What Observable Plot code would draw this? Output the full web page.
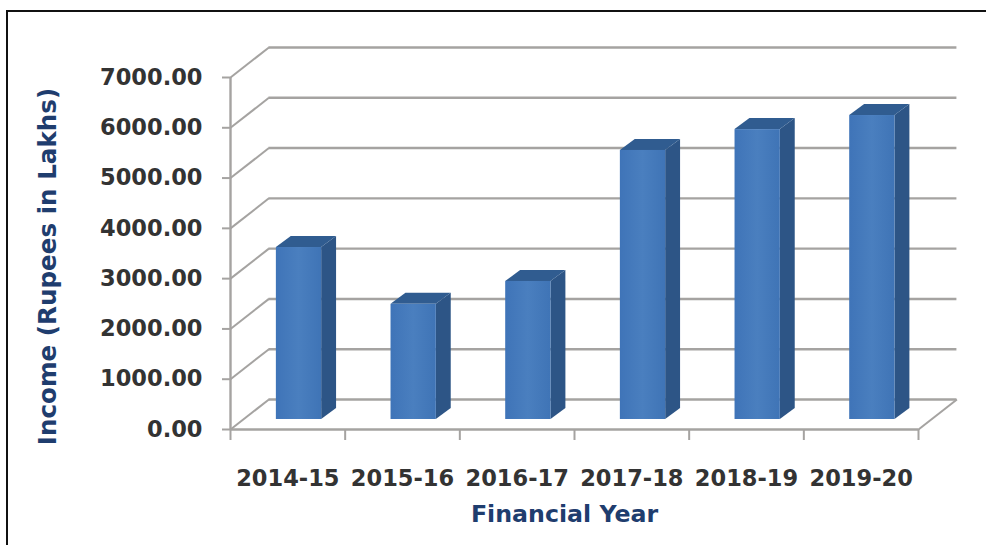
<!DOCTYPE html>
<html>
<head>
<meta charset="utf-8">
<script src="https://cdn.jsdelivr.net/npm/d3@7"></script>
<script src="https://cdn.jsdelivr.net/npm/@observablehq/plot@0.6"></script>
<style>
  html, body { margin: 0; padding: 0; background: #fff; overflow: hidden; }
  #chart { position: relative; width: 986px; height: 545px; }
  #chart svg { position: absolute; left: 0; top: 0; }
  #frame { position: absolute; left: 6px; top: 10px; right: 0; bottom: 0;
           border-left: 2px solid #111; border-top: 2px solid #111; }
</style>
</head>
<body>
<div id="chart"><div id="frame"></div></div>
<script>
// Annual income, in lakhs of rupees
const years = ["2014-15", "2015-16", "2016-17", "2017-18", "2018-19", "2019-20"];
const income = [3420, 2290, 2745, 5350, 5765, 6045];
const valueTicks = [0, 1000, 2000, 3000, 4000, 5000, 6000, 7000];

// Oblique projection, expressed in scale units
const wallX = 0.335, wallY = 597;      // floor depth, front edge to back wall
const barX = 0.13, barY = 219;         // depth of one column
const barLeft = 0.4, barWidth = 0.395; // column position inside its category
const barFloor = 199;                  // columns stand set back on the floor

const gridColor = "#a5a3a1";
const bars = years.map((year, i) => ({
  year,
  left: i + barLeft,
  right: i + barLeft + barWidth,
  base: barFloor,
  top: barFloor + income[i]
}));

// Right-hand face of each column
const sideFaces = bars.flatMap(b => [
  {year: b.year, x: b.right, lo: b.base, hi: b.top},
  {year: b.year, x: b.right + barX, lo: b.base + barY, hi: b.top + barY}
]);

// Top face of each column, traced left to right as lower and upper edges
const topFaces = bars.flatMap(b => [
  {year: b.year, x: b.left, lo: b.top, hi: b.top},
  {year: b.year, x: b.left + barX, lo: b.top, hi: b.top + barY},
  {year: b.year, x: b.right, lo: b.top, hi: b.top + barY},
  {year: b.year, x: b.right + barX, lo: b.top + barY, hi: b.top + barY}
]);

const tickStyle = {fontFamily: "DejaVu Sans", fontWeight: "bold", fontSize: 22.5};
const titleStyle = {fill: "#1f3d6e", fontFamily: "DejaVu Sans", fontWeight: "bold"};

// Soft horizontal shading on the front of the columns
const frontShade = () => {
  const defs = d3.create("svg:defs");
  const grad = defs.append("linearGradient").attr("id", "front-shade");
  grad.append("stop").attr("offset", "0%").attr("stop-color", "#3f74b8");
  grad.append("stop").attr("offset", "50%").attr("stop-color", "#4a7fbf");
  grad.append("stop").attr("offset", "100%").attr("stop-color", "#3f74b6");
  return defs.node();
};

const plot = Plot.plot({
  width: 986,
  height: 545,
  marginLeft: 230,
  marginRight: 68,
  marginTop: 77,
  marginBottom: 116,
  style: {background: "transparent", color: "#333", overflow: "visible"},
  x: {domain: [0, years.length], axis: null},
  y: {domain: [0, 7000], axis: null},
  marks: [
    frontShade,

    // Back wall and the floor
    Plot.ruleY(valueTicks, {stroke: gridColor, strokeWidth: 2.4, dx: wallX * 114.67, dy: -30}),
    Plot.link(valueTicks, {x1: 0, x2: wallX, y1: d => d, y2: d => d + wallY, stroke: gridColor, strokeWidth: 2}),
    Plot.link([0], {x1: years.length, x2: years.length + wallX, y1: 0, y2: wallY, stroke: gridColor, strokeWidth: 2}),

    // Front edges of the chart box
    Plot.ruleX([0], {stroke: gridColor, strokeWidth: 2.4}),
    Plot.ruleY([0], {stroke: gridColor, strokeWidth: 2.4}),

    // Axes
    Plot.axisY({
      ticks: valueTicks, tickSize: 8, tickPadding: 20, label: null,
      tickFormat: d3.format(".2f"), stroke: gridColor, strokeWidth: 2, fill: "#333", ...tickStyle
    }),
    Plot.axisX({
      ticks: d3.range(years.length + 1), tickSize: 11, tickFormat: () => "",
      label: null, stroke: gridColor, strokeWidth: 2
    }),
    Plot.axisX({
      ticks: years.map((_, i) => i + 0.5), tickSize: 0, tickPadding: 41, label: null,
      tickFormat: d => years[d - 0.5], fill: "#333", ...tickStyle
    }),

    // Columns
    Plot.area(sideFaces, {x1: "x", y1: "lo", y2: "hi", z: "year", fill: "#2d5586"}),
    Plot.area(topFaces, {x1: "x", y1: "lo", y2: "hi", z: "year", fill: "#305c90"}),
    Plot.rect(bars, {x1: "left", x2: "right", y1: "base", y2: "top", fill: "url(#front-shade)"}),

    // Axis titles
    Plot.text(["Income (Rupees in Lakhs)"], {
      frameAnchor: "left", textAnchor: "middle", rotate: -90, dx: -182, dy: 13, fontSize: 24.6, ...titleStyle
    }),
    Plot.text(["Financial Year"], {
      frameAnchor: "bottom", dx: -10, dy: 92, fontSize: 23.7, ...titleStyle
    })
  ]
});

document.getElementById("chart").appendChild(plot);
</script>
</body>
</html>
